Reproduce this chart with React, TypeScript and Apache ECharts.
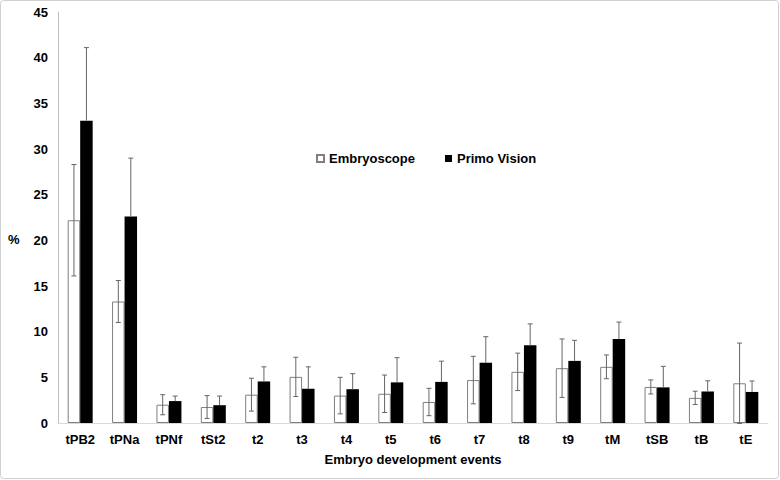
import React, { useEffect, useRef } from "react";
import * as echarts from "echarts";

const categories = ["tPB2", "tPNa", "tPNf", "tSt2", "t2", "t3", "t4", "t5", "t6", "t7", "t8", "t9", "tM", "tSB", "tB", "tE"];
const embryoscope = [22.2, 13.3, 2.0, 1.75, 3.1, 5.05, 3.0, 3.2, 2.3, 4.7, 5.6, 6.0, 6.15, 3.95, 2.75, 4.35];
const embryoscopeErr = [6.1, 2.3, 1.1, 1.25, 1.8, 2.15, 2.0, 2.05, 1.5, 2.6, 2.05, 3.2, 1.3, 0.77, 0.73, 4.4];
const primoVision = [33.1, 22.6, 2.4, 1.95, 4.55, 3.75, 3.7, 4.45, 4.5, 6.6, 8.5, 6.8, 9.2, 3.9, 3.45, 3.4];
const primoVisionErr = [8.0, 6.4, 0.55, 1.0, 1.6, 2.4, 1.7, 2.7, 2.27, 2.85, 2.35, 2.25, 1.85, 2.3, 1.17, 1.2];
const yTicks = [0, 5, 10, 15, 20, 25, 30, 35, 40, 45];

const FONT = "'Liberation Sans', Arial, sans-serif";
const GAP = 0.437;

function errorSeries(name: string, means: number[], errs: number[], side: number, plusOnly: boolean) {
  return {
    type: "custom",
    name: name + "-err",
    silent: true,
    z: 5,
    data: means.map((m, i) => [i, m, errs[i]]),
    encode: { x: 0, y: 1 },
    renderItem: (params: any, api: any) => {
      const i = api.value(0);
      const m = api.value(1);
      const e = api.value(2);
      const band = api.size([1, 0])[0];
      const barW = (band * (1 - GAP)) / 2;
      const c = api.coord([i, m]);
      const x = c[0] + side * barW / 2;
      const top = api.coord([i, m + e])[1];
      const bot = plusOnly ? c[1] : api.coord([i, m - e])[1];
      const cap = 2.5;
      const style = { stroke: "#666666", lineWidth: 1 };
      const children: any[] = [
        { type: "line", shape: { x1: x, y1: top, x2: x, y2: bot }, style },
        { type: "line", shape: { x1: x - cap, y1: top, x2: x + cap, y2: top }, style },
      ];
      if (!plusOnly) children.push({ type: "line", shape: { x1: x - cap, y1: bot, x2: x + cap, y2: bot }, style });
      return { type: "group", children };
    },
  };
}

export default function App() {
  const ref = useRef<HTMLDivElement>(null);
  useEffect(() => {
    if (!ref.current) return;
    const chart = echarts.init(ref.current, null, { renderer: "svg" });
    chart.setOption({
      animation: false,
      backgroundColor: "#ffffff",
      textStyle: { fontFamily: FONT },
      graphic: [
        {
          type: "rect",
          shape: { x: 0.5, y: 0.5, width: 778, height: 478, r: 3 },
          style: { fill: "none", stroke: "#d0d0d0", lineWidth: 1 },
          silent: true,
        },
        {
          type: "text",
          left: 8,
          top: 233,
          style: { text: "%", font: "bold 13px " + FONT, fill: "#000" },
        },
      ],
      legend: {
        left: 311,
        top: 147,
        itemWidth: 7,
        itemHeight: 7,
        itemGap: 30,
        icon: "rect",
        textStyle: { fontFamily: FONT, fontWeight: "bold", fontSize: 13, color: "#000" },
        data: ["Embryoscope", "Primo Vision"],
      },
      grid: { left: 58, right: 12, top: 12, bottom: 57, containLabel: false },
      xAxis: {
        type: "category",
        data: categories,
        axisLine: { lineStyle: { color: "#d9d9d9", width: 1 } },
        axisTick: { show: false },
        axisLabel: { color: "#000", fontWeight: "bold", fontSize: 13, fontFamily: FONT, margin: 10, interval: 0 },
        name: "Embryo development events",
        nameLocation: "middle",
        nameGap: 30,
        nameTextStyle: { color: "#000", fontWeight: "bold", fontSize: 13, fontFamily: FONT },
      },
      yAxis: {
        type: "value",
        min: yTicks[0],
        max: yTicks[yTicks.length - 1],
        interval: 5,
        axisLine: { show: true, lineStyle: { color: "#bfbfbf", width: 1 } },
        axisTick: { show: false },
        splitLine: { show: false },
        axisLabel: { color: "#000", fontWeight: "bold", fontSize: 13, fontFamily: FONT, margin: 10 },
      },
      series: [
        {
          name: "Embryoscope",
          type: "bar",
          data: embryoscope,
          barGap: "0%",
          barCategoryGap: GAP * 100 + "%",
          itemStyle: { color: "#ffffff", borderColor: "#7f7f7f", borderWidth: 1 },
          z: 2,
        },
        {
          name: "Primo Vision",
          type: "bar",
          data: primoVision,
          barGap: "0%",
          barCategoryGap: GAP * 100 + "%",
          itemStyle: { color: "#000000" },
          z: 2,
        },
        errorSeries("Embryoscope", embryoscope, embryoscopeErr, -1, false),
        errorSeries("Primo Vision", primoVision, primoVisionErr, 1, true),
      ],
    });
    return () => chart.dispose();
  }, []);
  return <div ref={ref} style={{ width: 780, height: 480, position: "absolute", left: 0, top: 0 }} />;
}
